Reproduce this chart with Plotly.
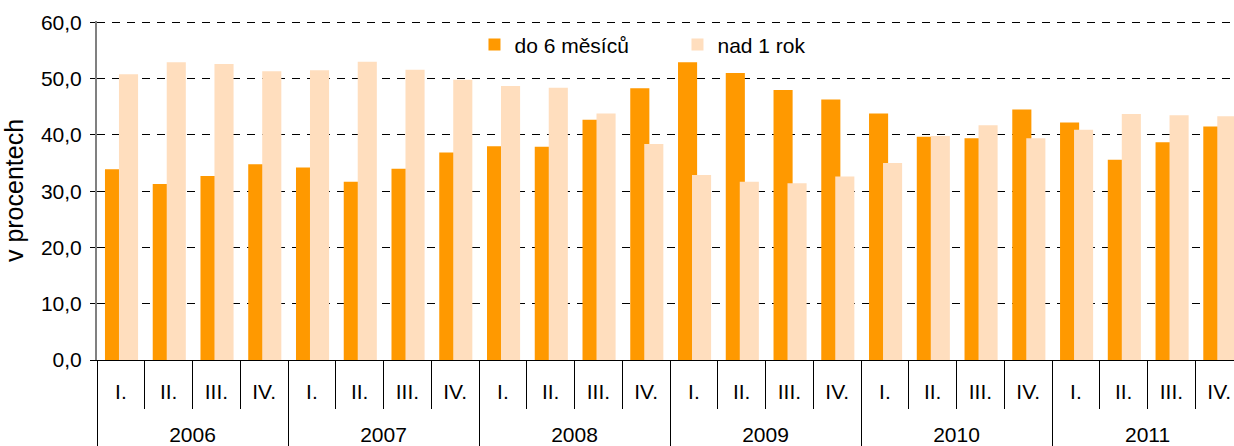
import plotly.graph_objects as go

YEARS = ["2006", "2007", "2008", "2009", "2010", "2011"]
QUARTERS = ["I.", "II.", "III.", "IV."]

# podíl uchazečů podle délky evidence (v %)
DO_6_MESICU = [33.9, 31.3, 32.7, 34.8,
               34.2, 31.7, 34.0, 36.9,
               38.0, 37.9, 42.7, 48.3,
               52.9, 51.0, 48.0, 46.3,
               43.8, 39.7, 39.4, 44.5,
               42.2, 35.6, 38.7, 41.5]
NAD_1_ROK = [50.8, 52.9, 52.6, 51.3,
             51.5, 53.0, 51.6, 49.8,
             48.7, 48.4, 43.8, 38.4,
             32.9, 31.7, 31.4, 32.6,
             35.0, 39.8, 41.7, 39.4,
             40.9, 43.7, 43.5, 43.3]

ORANGE = "rgb(255,153,0)"
PEACH = "rgb(255,222,190)"
FONT = "Liberation Sans, Arial, sans-serif"

cats = [f"{y} {q}" for y in YEARS for q in QUARTERS]
qlabels = [q for _ in YEARS for q in QUARTERS]

fig = go.Figure()
fig.add_trace(go.Bar(x=cats, y=DO_6_MESICU, name="do 6 měsíců",
                     marker=dict(color=ORANGE, line_width=0),
                     width=0.4, offset=-0.333))
fig.add_trace(go.Bar(x=cats, y=NAD_1_ROK, name="nad 1 rok",
                     marker=dict(color=PEACH, line_width=0),
                     width=0.4, offset=-0.04))
# neviditelná stopa jen kvůli ose s roky
fig.add_trace(go.Scatter(x=YEARS, y=[None] * len(YEARS), xaxis="x2",
                         showlegend=False, hoverinfo="skip", mode="markers"))

fig.update_layout(
    width=1234, height=446,
    margin=dict(l=97, r=0, t=21, b=86),
    paper_bgcolor="white", plot_bgcolor="white",
    barmode="overlay",
    separators=", ",
    font=dict(family=FONT, size=21, color="black"),
    legend=dict(orientation="h", x=0.332, y=0.93, xanchor="left", yanchor="middle",
                bgcolor="rgba(0,0,0,0)", font=dict(size=21), entrywidth=158),
    xaxis=dict(type="category", categoryarray=cats, tickmode="array",
               tickvals=cats, ticktext=qlabels, range=[-0.5, 23.31],
               tickson="boundaries", ticks="outside", ticklen=48,
               tickcolor="black", tickwidth=1, ticklabelstandoff=13,
               showline=True, linecolor="black", linewidth=1,
               showgrid=False, automargin=False),
    xaxis2=dict(type="category", categoryarray=YEARS, overlaying="x",
                anchor="y", side="bottom", range=[-0.5, 5.4525],
                tickson="boundaries", ticks="outside", ticklen=86,
                tickcolor="black", tickwidth=1, ticklabelstandoff=60,
                showgrid=False, showline=False, automargin=False),
    yaxis=dict(range=[0, 60.25], tickvals=[0, 10, 20, 30, 40, 50, 60],
               tickformat=".1f", ticklabelstandoff=4,
               ticks="outside", ticklen=5, tickcolor="black",
               showline=True, linecolor="rgb(128,128,128)", linewidth=2,
               showgrid=True, gridcolor="black", gridwidth=1,
               griddash="8px,7px", zeroline=False,
               title=dict(text="v procentech", standoff=14),
               automargin=False),
)

fig.write_html("out.html", config={"displayModeBar": False},
               post_script="document.body.style.margin='0';")
